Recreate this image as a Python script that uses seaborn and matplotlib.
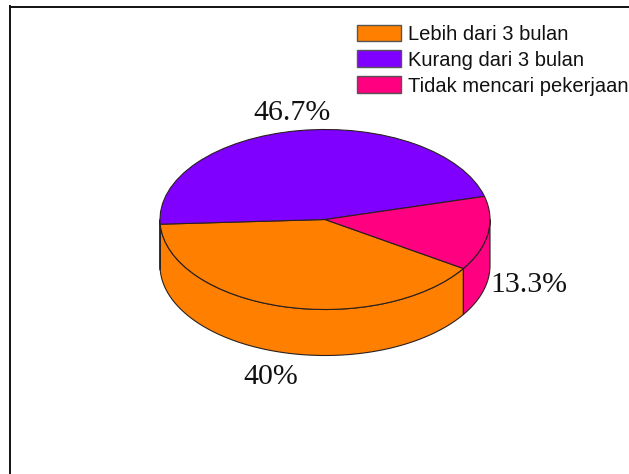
import numpy as np
import matplotlib
matplotlib.use('Agg')
import matplotlib.pyplot as plt
import seaborn as sns

# Data
labels = ['Lebih dari 3 bulan', 'Kurang dari 3 bulan', 'Tidak mencari pekerjaan']
values = [40, 46.7, 13.3]
value_labels = ['40%', '46.7%', '13.3%']
colors = ['#FF8000', '#8000FF', '#FF0080']

W, H = 629, 474
cx, cy = 325, 219.5   # centre of the top face, pixels
rx, ry = 165, 90
depth = 46 / ry
start = -33
edge = '#2a2020'

sns.set_theme(style='white')
fig = plt.figure(figsize=(W / 100, H / 100), dpi=100, facecolor='white')
ax = fig.add_axes([9.5 / W, 0, 1 - 9.5 / W, 1 - 6.5 / H])

# top face
wedges, _ = ax.pie(values, colors=colors, startangle=start, counterclock=False,
                   radius=1, frame=True,
                   wedgeprops=dict(edgecolor=edge, linewidth=0.8, zorder=3))
ax.set_aspect('auto')
ax.set_xlim((9.5 - cx) / rx, (W - cx) / rx)
ax.set_ylim((cy - H) / ry, (cy - 6.5) / ry)
ax.set_xticks([])
ax.set_yticks([])

for side in ['right', 'bottom']:
    ax.spines[side].set_visible(False)
for side in ['top', 'left']:
    ax.spines[side].set_visible(True)
    ax.spines[side].set_color('#111111')
    ax.spines[side].set_linewidth(1.4)

# side wall, only the front half of the rim shows
a1 = start
for val, col in zip(values, colors):
    a0 = a1 - val / sum(values) * 360
    lo = max(a0 % 360 if a0 % 360 >= 180 else 180, 180)
    hi = a1 % 360 if a1 % 360 >= 180 else 360
    if a0 % 360 < 180 and a1 % 360 < 180:
        a1 = a0
        continue
    t = np.radians(np.linspace(lo, hi, 80))
    xs = np.cos(t)
    ys = np.sin(t)
    ax.fill(np.r_[xs, xs[::-1]], np.r_[ys, ys[::-1] - depth],
            facecolor=col, edgecolor=edge, linewidth=0.8, zorder=2)
    a1 = a0


def to_data(px, py):
    return (px - cx) / rx, (cy - py) / ry


# percent labels
label_pos = [(271, 377.5), (292, 112.5), (529, 285.5)]
for txt, (px, py) in zip(value_labels, label_pos):
    x, y = to_data(px, py)
    ax.text(x, y, txt, family='Liberation Serif', fontsize=21.5, color='#111111',
            ha='center', va='center', zorder=5)

# legend
handles = [plt.Rectangle((0, 0), 1, 1, facecolor=c, edgecolor='#555555', linewidth=1) for c in colors]
lx, ly = to_data(357, 24.5)
ax.legend(handles, labels, loc='upper left', bbox_to_anchor=(lx, ly),
          bbox_transform=ax.transData, frameon=False, borderpad=0, borderaxespad=0,
          prop={'family': 'Liberation Sans', 'size': 14.5},
          handlelength=2.19, handleheight=0.89, handletextpad=0.33, labelspacing=0.33,
          labelcolor='#111111')

fig.savefig('out.png', dpi=100)
